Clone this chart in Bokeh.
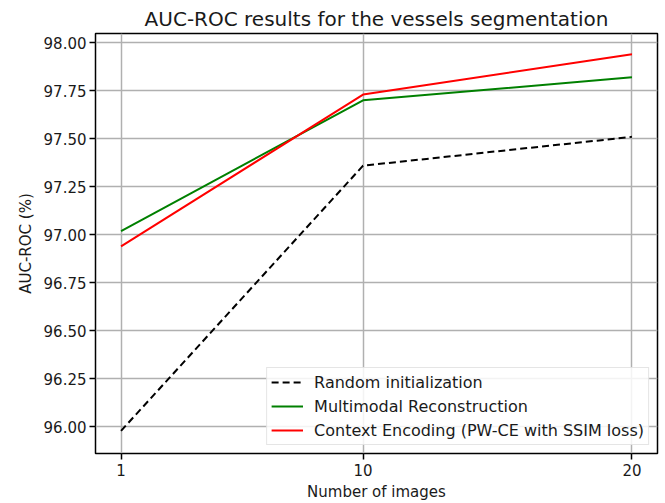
from bokeh.plotting import figure
from bokeh.models import FixedTicker, NumeralTickFormatter, Range1d, Legend, LegendItem
from bokeh.embed import file_html
from bokeh.resources import INLINE

num_images = [1, 10, 20]
random_init = [95.98, 97.36, 97.51]
multimodal = [97.02, 97.70, 97.82]
context_enc = [96.94, 97.73, 97.94]
y_ticks = [96.0, 96.25, 96.5, 96.75, 97.0, 97.25, 97.5, 97.75, 98.0]

FONT = "DejaVu Sans"

p = figure(width=665, height=503, output_backend="svg", toolbar_location=None,
           x_range=Range1d(0.05, 20.95), y_range=Range1d(95.862, 98.048),
           min_border_left=95, min_border_right=8, min_border_top=33, min_border_bottom=48)

p.title.text = "AUC-ROC results for the vessels segmentation"
p.title.text_font = FONT
p.title.text_font_size = "20px"
p.title.text_font_style = "normal"
p.title.align = "center"
p.title.text_color = "#1a1a1a"
p.title.offset = 0
p.title.standoff = 5

r1 = p.line(num_images, random_init, line_color="black", line_width=2, line_dash="7 4")
r2 = p.line(num_images, multimodal, line_color="#008000", line_width=2)
r3 = p.line(num_images, context_enc, line_color="#ff0000", line_width=2)

p.xaxis.ticker = FixedTicker(ticks=num_images)
p.yaxis.ticker = FixedTicker(ticks=y_ticks)
p.yaxis.formatter = NumeralTickFormatter(format="0.00")

for ax in (p.xaxis[0], p.yaxis[0]):
    ax.major_label_text_font = FONT
    ax.major_label_text_font_size = "15px"
    ax.major_label_text_color = "#1a1a1a"
    ax.axis_label_text_font = FONT
    ax.axis_label_text_font_size = "15px"
    ax.axis_label_text_font_style = "normal"
    ax.axis_label_text_color = "#1a1a1a"
    ax.major_tick_out = 6
    ax.major_tick_in = 0
    ax.minor_tick_out = 0
    ax.minor_tick_in = 0
    ax.axis_line_color = None
    ax.major_tick_line_color = "black"
    ax.major_tick_line_width = 1.5

p.xaxis.axis_label = "Number of images"
p.yaxis.axis_label = "AUC-ROC (%)"
p.xaxis.axis_label_standoff = 4
p.yaxis.axis_label_standoff = 6
p.xaxis.major_label_standoff = 4
p.yaxis.major_label_standoff = 3

p.grid.grid_line_color = "#b0b0b0"
p.grid.grid_line_width = 1.5
p.outline_line_color = "black"
p.outline_line_width = 1.5

legend = Legend(items=[
    LegendItem(label="Random initialization", renderers=[r1]),
    LegendItem(label="Multimodal Reconstruction", renderers=[r2]),
    LegendItem(label="Context Encoding (PW-CE with SSIM loss)", renderers=[r3]),
], location="bottom_right")
legend.label_text_font = FONT
legend.label_text_font_size = "16px"
legend.label_text_color = "#1a1a1a"
legend.glyph_width = 32
legend.glyph_height = 20
legend.label_height = 20
legend.label_standoff = 11
legend.spacing = 4
legend.padding = 4
legend.margin = 8
legend.border_line_color = "#cccccc"
legend.border_line_width = 1
legend.background_fill_alpha = 0.85
p.add_layout(legend)

open("out.html", "w").write(file_html(p, INLINE))
